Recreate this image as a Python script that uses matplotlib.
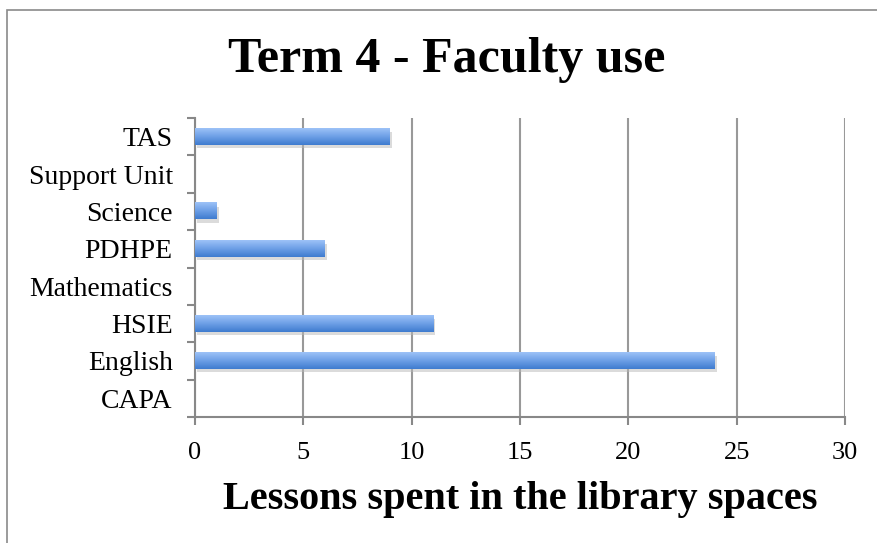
import numpy as np
import matplotlib
matplotlib.use("Agg")
import matplotlib.pyplot as plt
import matplotlib.patheffects as pe
from matplotlib.colors import LinearSegmentedColormap
from matplotlib.patches import Rectangle

# --- data ---
faculties = ["CAPA", "English", "HSIE", "Mathematics", "PDHPE", "Science", "Support Unit", "TAS"]
lessons = [0, 24, 11, 0, 6, 1, 0, 9]
x_ticks = [0, 5, 10, 15, 20, 25, 30]

plt.rcParams["font.family"] = ["Liberation Serif", "DejaVu Serif"]

fig = plt.figure(figsize=(8.77, 5.43), dpi=100)
fig.patches.append(Rectangle((7 / 877, -0.1), 2, (543 - 10) / 543 + 0.1,
                             transform=fig.transFigure, fill=False,
                             edgecolor="#8a8a8a", linewidth=1.2))

ax = fig.add_axes([195 / 877, 1 - 417 / 543, 650 / 877, 299 / 543])

pos = np.arange(len(faculties))
bar_h = 0.43
bars = ax.barh(pos, lessons, height=bar_h, color="#5f95e0", zorder=3)
for b in bars:
    b.set_path_effects([pe.SimplePatchShadow(offset=(1.5, -2.5), shadow_rgbFace="#b8b8b8", alpha=0.5),
                        pe.Normal()])

# vertical gradient on each bar
grad = LinearSegmentedColormap.from_list("bar", ["#3f7ccf", "#6d9fe6", "#9dc2f7"])
for p, v in zip(pos, lessons):
    if v > 0:
        ax.imshow(np.linspace(0, 1, 64).reshape(-1, 1), cmap=grad, aspect="auto",
                  extent=(0, v, p - bar_h / 2, p + bar_h / 2), origin="lower", zorder=4)

ax.set_xlim(0, 30)
ax.set_ylim(-0.5, len(faculties) - 0.5)
ax.set_xticks(x_ticks)
ax.set_xticklabels([str(t) for t in x_ticks], fontsize=19)
ax.set_yticks(pos)
ax.set_yticklabels(faculties, fontsize=20)
ax.tick_params(axis="y", length=0, pad=16)
ax.set_yticks(np.arange(-0.5, len(faculties), 1), minor=True)
ax.tick_params(axis="y", which="minor", length=6, width=1.5, color="#888888", direction="out")
ax.tick_params(axis="x", length=6, width=1.5, color="#888888", pad=12)

ax.grid(axis="x", color="#999999", linewidth=1.5, zorder=1)
ax.set_axisbelow(True)
for side in ["top", "right"]:
    ax.spines[side].set_visible(False)
for side in ["left", "bottom"]:
    ax.spines[side].set_color("#888888")
    ax.spines[side].set_linewidth(1.5)

ax.set_xlabel("Lessons spent in the library spaces", fontsize=29, fontweight="bold", labelpad=12)
fig.text(447 / 877, 1 - 60 / 543, "Term 4 - Faculty use", fontsize=36, fontweight="bold",
         ha="center", va="center")

fig.savefig("out.png", dpi=100)
